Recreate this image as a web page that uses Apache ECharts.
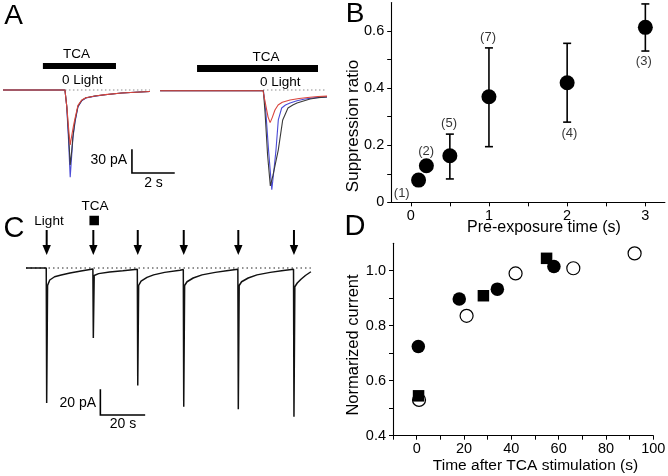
<!DOCTYPE html>
<html><head><meta charset="utf-8">
<script src="https://cdn.jsdelivr.net/npm/echarts@6/dist/echarts.min.js"></script>
<style>html,body{margin:0;padding:0;background:#fff}#c{width:668px;height:476px}</style>
</head><body><div id="c"></div>
<script>
// ---------- Panel A : example traces [time (s), current (pA)] ----------
const aLeftBlue  = [[0,0],[2.95,0],[3.03,-20],[3.12,-65],[3.2,-113.8],[3.26,-90],[3.33,-62],[3.43,-42],[3.57,-22],[3.75,-14],[3.95,-10.5],[4.38,-8],[4.86,-6.2],[5.65,-4],[6.3,-3],[7.0,-2]];
const aLeftBlack = [[0,0],[2.95,0],[3.04,-22],[3.13,-62],[3.2,-97.8],[3.27,-80],[3.34,-58],[3.43,-40],[3.57,-21],[3.75,-13.5],[3.95,-10],[4.38,-7.9],[4.86,-6.1],[5.65,-4],[6.3,-3],[7.0,-2]];
const aLeftRed   = [[0,0],[2.95,0],[3.05,-25],[3.14,-55],[3.2,-71.7],[3.27,-60],[3.36,-46],[3.43,-37],[3.57,-20],[3.75,-13],[3.95,-10],[4.38,-7.8],[4.86,-6],[5.65,-3.9],[6.3,-3],[7.0,-2]];
const aRightBlue  = [[7.48,-1],[12.4,-1],[12.52,-30],[12.65,-80],[12.8,-130],[12.9,-105],[13.0,-78],[13.11,-39],[13.27,-23.5],[13.45,-19.5],[13.67,-17],[14.0,-14],[14.38,-11.7],[14.9,-10],[15.43,-9]];
const aRightBlack = [[7.48,-1],[12.4,-1],[12.48,-30],[12.6,-85],[12.73,-125],[12.85,-112],[12.98,-95],[13.11,-78],[13.32,-39],[13.57,-23.5],[13.8,-19.5],[14.0,-17],[14.62,-11.7],[15.0,-10],[15.43,-9]];
const aRightRed   = [[7.48,-1],[12.38,-1],[12.5,-18],[12.62,-35],[12.72,-42.5],[12.82,-36],[12.95,-26],[13.1,-19.5],[13.3,-16],[13.67,-13],[14.1,-11],[14.62,-9.5],[15.0,-8.5],[15.43,-8]];
const aTcaLeft  = [1.9, 5.38];    // TCA application (s)
const aTcaRight = [9.24, 15.0];
const aBaseLeft  = [2.95, 7.0];   // dotted baseline spans (s)
const aBaseRight = [12.38, 15.33];

// ---------- Panel B ----------
const bTime    = [0.1, 0.2, 0.5, 1, 2, 3];
const bRatio   = [0.078, 0.128, 0.163, 0.370, 0.419, 0.613];
const bErrLow  = [null, null, 0.082, 0.195, 0.281, 0.530];
const bErrHigh = [null, null, 0.239, 0.541, 0.557, 0.695];
const bCounts  = ['(1)', '(2)', '(5)', '(7)', '(4)', '(3)'];
const bXTicks = [0, 1, 2, 3];
const bYTicks = [0, 0.2, 0.4, 0.6];

// ---------- Panel C : continuous trace [time (s), current (pA)] ----------
const cTrace = [[0,0],[9.2,0],[9.4,-108],[9.8,-14],[10.8,-9.6],[13,-7],[16,-5.6],[20,-4],[25,-2.4],[30.4,-0.8],
  [30.6,-56],[31.0,-6],[33,-4.5],[38,-3.2],[44,-2.2],[50.6,-1],
  [50.8,-94],[51.2,-14],[52.3,-10.5],[55,-7.5],[58,-5.5],[63,-3.5],[70,-1.8],[71.5,-1.2],
  [71.7,-111],[72.1,-14],[73.2,-11],[76,-8],[80,-5.5],[86,-3.5],[92,-2],[96.3,-1],
  [96.5,-113],[96.9,-14],[98,-11],[101,-8],[105,-5.5],[111,-3.5],[117,-2],[121.6,-1],
  [121.8,-119],[122.2,-15],[123.3,-12],[125,-9],[127,-6],[129.5,-3]];
const cLightTimes = [9.4, 30.6, 50.8, 71.7, 96.5, 121.8];
const cTcaTime = 31.0;

// ---------- Panel D ----------
const dFilledX = [0.7, 18.0, 34.1, 58.0];
const dFilledY = [0.724, 0.897, 0.933, 1.015];
const dSquareX = [0.8, 28.2, 54.9];
const dSquareY = [0.545, 0.909, 1.045];
const dOpenX   = [1.0, 21.1, 41.8, 66.2, 92.1];
const dOpenY   = [0.53, 0.836, 0.99, 1.009, 1.063];
const dXTicks = [0, 20, 40, 60, 80, 100];
const dYTicks = [0.4, 0.6, 0.8, 1.0];

// ---------- layout ----------
const FONT = '"Liberation Sans", Arial, sans-serif';
const bCountPos = [[-0.115,0.032],[0.197,0.177],[0.49,0.277],[0.988,0.577],[2.028,0.242],[2.98,0.493]];
const pair = (xs, ys) => xs.map((x, i) => [x, ys[i]]);
const axisLine = {show:true, onZero:false, lineStyle:{color:'#000', width:1.1}};
const tickStyle = {lineStyle:{color:'#000', width:1}};

const chart = echarts.init(document.getElementById('c'), null, {renderer:'canvas'});
const base = (xi, col, w) => ({type:'line', xAxisIndex:xi, yAxisIndex:xi, showSymbol:false, symbol:'none', silent:true,
  lineStyle:{color:col, width:w}, animation:false});

const option = {
  animation:false,
  textStyle:{fontFamily:FONT, color:'#000'},
  grid:[
    {left:3, top:51.65, width:336, height:153.4, outerBoundsMode:'none'},
    {left:391.2, top:2.5, width:273.7, height:199.85, outerBoundsMode:'none'},
    {left:26, top:205.5, width:286, height:225, outerBoundsMode:'none'},
    {left:393.0, top:243.2, width:260.3, height:192.5, outerBoundsMode:'none'}
  ],
  xAxis:[
    {gridIndex:0, type:'value', min:0, max:16, show:false},
    {gridIndex:1, type:'value', min:-0.25, max:3.25, axisLine,
      axisTick:{show:true, length:4, inside:false, customValues:[0,0.5,1,1.5,2,2.5,3], ...tickStyle},
      axisLabel:{customValues:bXTicks, margin:6, fontSize:14.5, color:'#000', fontFamily:FONT},
      splitLine:{show:false}},
    {gridIndex:2, type:'value', min:0, max:130, show:false},
    {gridIndex:3, type:'value', min:-10, max:100, axisLine,
      axisTick:{show:true, length:4, customValues:[-10,0,10,20,30,40,50,60,70,80,90,100], ...tickStyle},
      axisLabel:{customValues:dXTicks, margin:6, fontSize:14.5, color:'#000', fontFamily:FONT},
      splitLine:{show:false}}
  ],
  yAxis:[
    {gridIndex:0, type:'value', min:-150, max:50, show:false},
    {gridIndex:1, type:'value', min:0, max:0.7, axisLine,
      axisTick:{show:true, length:4, customValues:[0,0.1,0.2,0.3,0.4,0.5,0.6], ...tickStyle},
      axisLabel:{customValues:bYTicks, margin:7, fontSize:14.5, color:'#000', fontFamily:FONT,
        formatter:v => v === 0 ? '0' : v.toFixed(1)},
      splitLine:{show:false}},
    {gridIndex:2, type:'value', min:-130, max:50, show:false},
    {gridIndex:3, type:'value', min:0.4, max:1.1, axisLine,
      axisTick:{show:true, length:4, customValues:[0.4,0.5,0.6,0.7,0.8,0.9,1.0], ...tickStyle},
      axisLabel:{customValues:dYTicks, margin:7, fontSize:14.5, color:'#000', fontFamily:FONT,
        formatter:v => v.toFixed(1)},
      splitLine:{show:false}}
  ],
  series:[
    // ---- Panel A ----
    Object.assign(base(0,'#8c8c8c',1), {data:[[aBaseLeft[0],0],[aBaseLeft[1],0]], lineStyle:{color:'#8c8c8c', width:1, type:[1.5,2.5]}}),
    Object.assign(base(0,'#8c8c8c',1), {data:[[aBaseRight[0],0],[aBaseRight[1],0]], lineStyle:{color:'#8c8c8c', width:1, type:[1.5,2.5]}}),
    Object.assign(base(0,'#4b4bd6',1.1), {data:aLeftBlue}),
    Object.assign(base(0,'#3a3a3a',1.1), {data:aLeftBlack}),
    Object.assign(base(0,'#d9463e',1.1), {data:aLeftRed}),
    Object.assign(base(0,'#4b4bd6',1.1), {data:aRightBlue}),
    Object.assign(base(0,'#3a3a3a',1.1), {data:aRightBlack}),
    Object.assign(base(0,'#d9463e',1.1), {data:aRightRed}),
    Object.assign(base(0,'#000',6), {data:[[aTcaLeft[0],31.3],[aTcaLeft[1],31.3]], lineStyle:{color:'#000', width:6, cap:'butt'}}),
    Object.assign(base(0,'#000',7), {data:[[aTcaRight[0],28],[aTcaRight[1],28]], lineStyle:{color:'#000', width:7, cap:'butt'}}),
    Object.assign(base(0,'#000',1.6), {data:[[6.14,-78.2],[6.14,-108.2],[8.14,-108.2]], lineStyle:{color:'#000', width:1.6, cap:'square', join:'miter'}}),
    // ---- Panel B ----
    {type:'custom', xAxisIndex:1, yAxisIndex:1, silent:true,
      data:bTime.map((t,i)=>[t, bErrLow[i], bErrHigh[i]]).filter(d=>d[1]!==null),
      renderItem:(params, api) => {
        const lo = api.coord([api.value(0), api.value(1)]);
        const hi = api.coord([api.value(0), api.value(2)]);
        const w = 4, st = {stroke:'#000', lineWidth:1.6};
        return {type:'group', children:[
          {type:'line', shape:{x1:lo[0], y1:lo[1], x2:hi[0], y2:hi[1]}, style:st},
          {type:'line', shape:{x1:lo[0]-w, y1:lo[1], x2:lo[0]+w, y2:lo[1]}, style:st},
          {type:'line', shape:{x1:hi[0]-w, y1:hi[1], x2:hi[0]+w, y2:hi[1]}, style:st}
        ]};
      }},
    {type:'scatter', xAxisIndex:1, yAxisIndex:1, symbol:'circle', symbolSize:15, silent:true,
      itemStyle:{color:'#000', opacity:1}, data:pair(bTime, bRatio)},
    {type:'scatter', xAxisIndex:1, yAxisIndex:1, symbolSize:1, silent:true, itemStyle:{color:'rgba(0,0,0,0)'},
      label:{show:true, position:'inside', formatter:p => p.data[2], fontSize:13, color:'#000', fontFamily:FONT},
      data:bCountPos.map((p,i)=>[p[0], p[1], bCounts[i]])},
    // ---- Panel C ----
    Object.assign(base(2,'#000',1), {data:[[cTrace[0][0],0],[cTrace[cTrace.length-1][0],0]], lineStyle:{color:'#222', width:1, type:[1.5,3]}}),
    Object.assign(base(2,'#111',1.5), {data:cTrace}),
    {type:'custom', xAxisIndex:2, yAxisIndex:2, silent:true, data:cLightTimes.map(t=>[t]),
      renderItem:(params, api) => {
        const top = api.coord([api.value(0), 30.4]);
        const tip = api.coord([api.value(0), 10.4]);
        return {type:'group', children:[
          {type:'line', shape:{x1:top[0], y1:top[1], x2:tip[0], y2:tip[1]-8}, style:{stroke:'#000', lineWidth:2}},
          {type:'polygon', shape:{points:[[tip[0]-4.2, tip[1]-10],[tip[0]+4.2, tip[1]-10],[tip[0], tip[1]]]}, style:{fill:'#000'}}
        ]};
      }},
    {type:'scatter', xAxisIndex:2, yAxisIndex:2, symbol:'rect', symbolSize:9.5, silent:true,
      itemStyle:{color:'#000', opacity:1}, data:[[cTcaTime, 38]]},
    Object.assign(base(2,'#000',1.6), {data:[[33.8,-97.6],[33.8,-117.6],[53.8,-117.6]], lineStyle:{color:'#000', width:1.6, cap:'square', join:'miter'}}),
    // ---- Panel D ----
    {type:'scatter', xAxisIndex:3, yAxisIndex:3, symbol:'circle', symbolSize:13, silent:true,
      itemStyle:{color:'#fff', borderColor:'#000', borderWidth:1.2, opacity:1}, data:pair(dOpenX, dOpenY)},
    {type:'scatter', xAxisIndex:3, yAxisIndex:3, symbol:'rect', symbolSize:11.5, silent:true,
      itemStyle:{color:'#000', opacity:1}, data:pair(dSquareX, dSquareY)},
    {type:'scatter', xAxisIndex:3, yAxisIndex:3, symbol:'circle', symbolSize:13.5, silent:true,
      itemStyle:{color:'#000', opacity:1}, data:pair(dFilledX, dFilledY)}
  ],
  graphic:[
    // panel letters
    {type:'text', x:13.5, y:16, style:{text:'A', font:'28px '+FONT, fill:'#000', align:'center', verticalAlign:'middle'}},
    {type:'text', x:355, y:14.5, style:{text:'B', font:'28px '+FONT, fill:'#000', align:'center', verticalAlign:'middle'}},
    {type:'text', x:14, y:228.5, style:{text:'C', font:'29px '+FONT, fill:'#000', align:'center', verticalAlign:'middle'}},
    {type:'text', x:355, y:226.5, style:{text:'D', font:'29px '+FONT, fill:'#000', align:'center', verticalAlign:'middle'}},
    // panel A texts
    {type:'text', x:76.5, y:54, style:{text:'TCA', font:'13.5px '+FONT, fill:'#000', align:'center', verticalAlign:'middle'}},
    {type:'text', x:266, y:57, style:{text:'TCA', font:'13.5px '+FONT, fill:'#000', align:'center', verticalAlign:'middle'}},
    {type:'text', x:62, y:80, style:{text:'0 Light', font:'13.5px '+FONT, fill:'#000', align:'left', verticalAlign:'middle'}},
    {type:'text', x:260, y:82, style:{text:'0 Light', font:'13.5px '+FONT, fill:'#000', align:'left', verticalAlign:'middle'}},
    {type:'text', x:127, y:160.5, style:{text:'30 pA', font:'14px '+FONT, fill:'#000', align:'right', verticalAlign:'middle'}},
    {type:'text', x:153.5, y:183, style:{text:'2 s', font:'14px '+FONT, fill:'#000', align:'center', verticalAlign:'middle'}},
    // panel C texts
    {type:'text', x:49, y:221, style:{text:'Light', font:'13.5px '+FONT, fill:'#000', align:'center', verticalAlign:'middle'}},
    {type:'text', x:95, y:206, style:{text:'TCA', font:'13.5px '+FONT, fill:'#000', align:'center', verticalAlign:'middle'}},
    {type:'text', x:96, y:403.5, style:{text:'20 pA', font:'14px '+FONT, fill:'#000', align:'right', verticalAlign:'middle'}},
    {type:'text', x:123, y:424.5, style:{text:'20 s', font:'14px '+FONT, fill:'#000', align:'center', verticalAlign:'middle'}},
    // axis titles
    {type:'text', x:353, y:126, rotation:Math.PI/2, style:{text:'Suppression ratio', font:'17px '+FONT, fill:'#000', align:'center', verticalAlign:'middle'}},
    {type:'text', x:544, y:227.5, style:{text:'Pre-exposure time (s)', font:'16px '+FONT, fill:'#000', align:'center', verticalAlign:'middle'}},
    {type:'text', x:353, y:345, rotation:Math.PI/2, style:{text:'Normarized current', font:'16.5px '+FONT, fill:'#000', align:'center', verticalAlign:'middle'}},
    {type:'text', x:535.5, y:466, style:{text:'Time after TCA stimulation (s)', font:'15.5px '+FONT, fill:'#000', align:'center', verticalAlign:'middle'}}
  ]
};
chart.setOption(option);
</script>
</body></html>
